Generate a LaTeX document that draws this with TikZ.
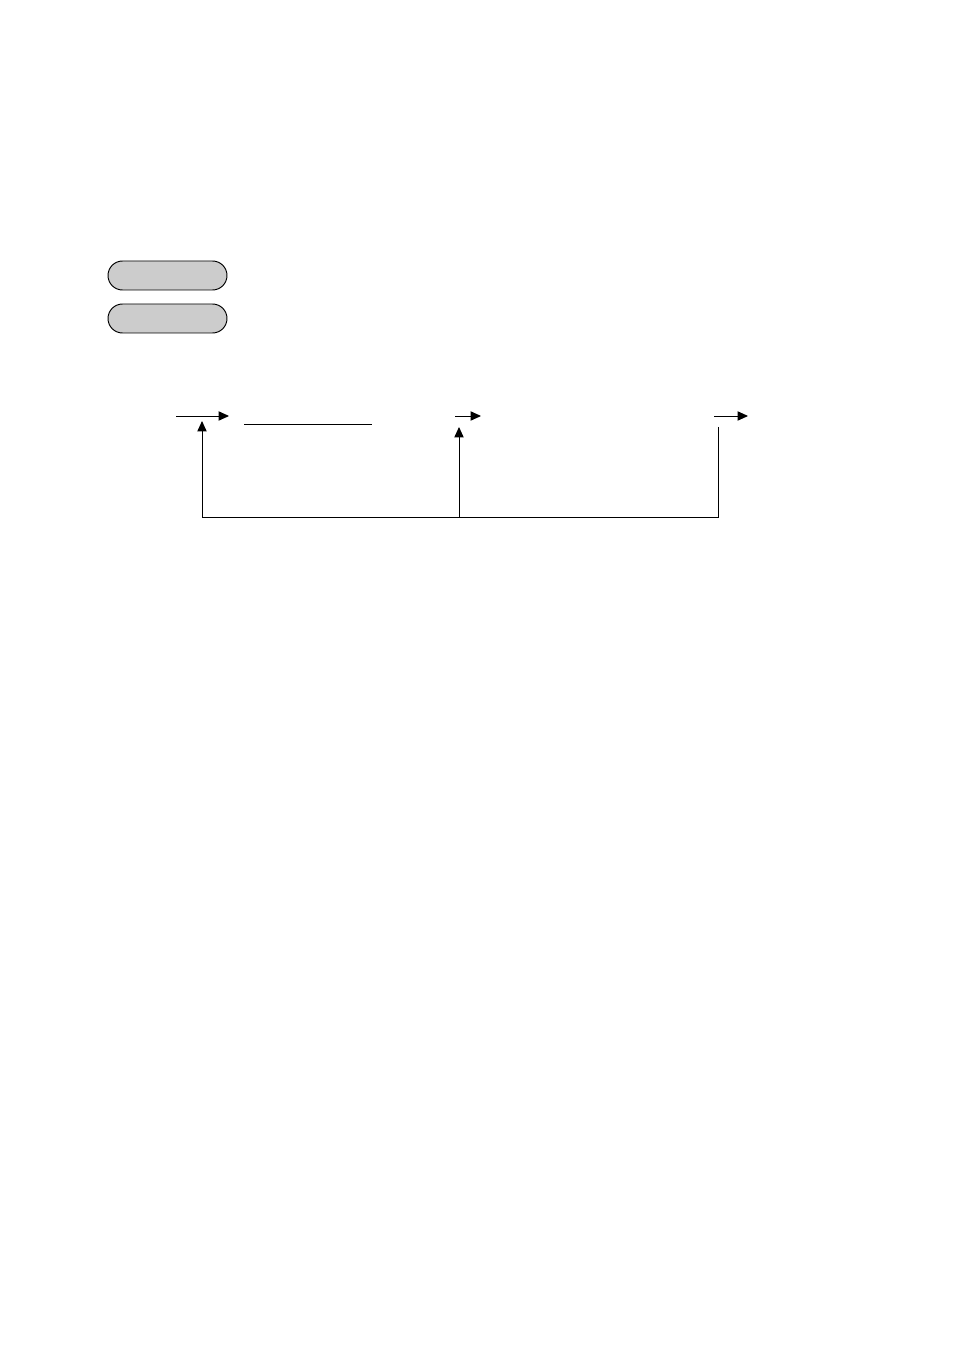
\documentclass[tikz,border=0pt]{standalone}
\usepackage{tikz}
\usetikzlibrary{arrows.meta,shapes,positioning}

\begin{document}
\begin{tikzpicture}[
        x=0.6237pt, y=-0.6237pt,
        every path/.style={line width=0.6pt},
        pill/.style={draw, rounded rectangle, fill=gray!40, minimum width=119*0.6237pt, minimum height=29*0.6237pt, inner sep=0pt},
        tip/.style={-{Triangle[length=6.5pt,width=5.8pt]}}
    ]
    \useasboundingbox (0,0) rectangle (954,1351);

    % Nodes
      \node[pill] (keyA) at (167.5,275.5) {};
      \node[pill] (keyB) at (167.5,318.5) {};

      \coordinate (inA) at (176,416);
      \coordinate (outA) at (229,416);
      \coordinate (inB) at (455,416);
      \coordinate (outB) at (481,416);
      \coordinate (inC) at (714,416);
      \coordinate (outC) at (748,416);

      \coordinate (lineL) at (244,424);
      \coordinate (lineR) at (372,424);

      \coordinate (upA) at (202,421);
      \coordinate (upB) at (459,427);
      \coordinate (upC) at (718,427);
      \coordinate (baseA) at (202,517);
      \coordinate (baseB) at (459,517);
      \coordinate (baseC) at (718,517);

    \draw[tip] (inA) -- (outA);
    \draw[tip] (inB) -- (outB);
    \draw[tip] (inC) -- (outC);
    \draw (lineL) -- (lineR);

    \draw (upC) -- (baseC) -- (baseA);
    \draw[tip] (baseA) -- (upA);
    \draw[tip] (baseB) -- (upB);

\end{tikzpicture}
\end{document}
